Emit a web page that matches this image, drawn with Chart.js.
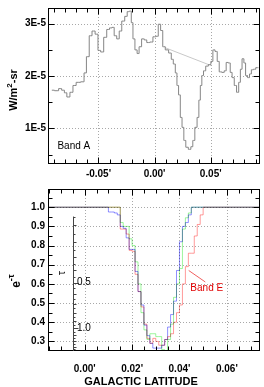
<!DOCTYPE html>
<html>
<head>
<meta charset="utf-8">
<script src="https://cdn.jsdelivr.net/npm/chart.js@4.4.0/dist/chart.umd.min.js"></script>
<style>
  html, body { margin: 0; padding: 0; background: #fff; }
  #wrap { position: relative; width: 264px; height: 387px; }
  canvas { position: absolute; left: 0; }
  #top { top: 0; }
  #bot { top: 180px; }
</style>
</head>
<body>
<div id="wrap">
  <canvas id="top" width="264" height="180"></canvas>
  <canvas id="bot" width="264" height="207"></canvas>
</div>
<script>
Chart.defaults.font.family = "'Liberation Sans', Arial, sans-serif";
Chart.defaults.color = '#000';
Chart.defaults.animation = false;

// ---- Band A brightness (units of 1E-5 W/m2-sr) ----
var bandALat = [-0.0916, -0.0869, -0.0842, -0.0815, -0.0793, -0.0771, -0.0738, -0.0717, -0.0681, -0.0637,
  -0.0620, -0.0595, -0.0570, -0.0545, -0.0515, -0.0494, -0.0467, -0.0440, -0.0413, -0.0390,
  -0.0369, -0.0351, -0.0324, -0.0306, -0.0279, -0.0253, -0.0235, -0.0215, -0.0200, -0.0185,
  -0.0165, -0.0146, -0.0130, -0.0101, -0.0083, -0.0056, -0.0029, 0.0000, 0.0024, 0.0042,
  0.0066, 0.0080, 0.0111, 0.0140, 0.0158, 0.0176, 0.0194, 0.0205, 0.0223, 0.0236,
  0.0254, 0.0268, 0.0289, 0.0313, 0.0334, 0.0348, 0.0370, 0.0388, 0.0402, 0.0414,
  0.0429, 0.0444, 0.0468, 0.0491, 0.0513, 0.0527, 0.0551, 0.0566, 0.0587, 0.0611,
  0.0631, 0.0646, 0.0667, 0.0682, 0.0700, 0.0721, 0.0741, 0.0759, 0.0771, 0.0789,
  0.0804, 0.0819, 0.0839, 0.0854, 0.0872, 0.0890, 0.0914, 0.0926];
var bandAFlux = [1.73, 1.72, 1.76, 1.73, 1.68, 1.60, 1.69, 1.82, 1.88, 1.89,
  2.06, 2.37, 2.77, 2.86, 2.80, 2.49, 2.46, 2.74, 2.89, 2.92,
  2.93, 2.77, 2.71, 2.86, 3.05, 3.14, 3.23, 3.24, 3.02, 2.71,
  2.50, 2.43, 2.56, 2.71, 2.69, 2.64, 2.65, 2.75, 2.76, 2.99,
  2.87, 2.56, 2.50, 2.44, 2.32, 2.23, 2.06, 1.82, 1.64, 1.21,
  1.02, 0.77, 0.64, 0.60, 0.65, 0.77, 1.02, 1.21, 1.54, 1.82,
  2.01, 2.10, 2.19, 2.22, 2.28, 2.50, 2.47, 2.28, 2.08, 2.07,
  2.10, 2.26, 2.25, 2.07, 1.97, 1.82, 1.69, 1.88, 2.13, 2.33,
  2.25, 2.01, 1.97, 2.04, 2.12, 2.13, 2.16, 2.16];
// interpolated background under the cloud
var baseLat = [0.0096, 0.0504];
var baseFlux = [2.54, 2.20];

var topXTicks = [-0.05, 0.00, 0.05];
var topYTicks = [1, 2, 3];

// ---- transmission e^-tau for three bands ----
var transLat = [-0.016, 0.00875, 0.01, 0.01125, 0.0125, 0.01375, 0.015, 0.01625, 0.0175, 0.01875,
  0.02, 0.02125, 0.0225, 0.02375, 0.025, 0.02625, 0.0275, 0.02875, 0.03, 0.03125,
  0.0325, 0.03375, 0.035, 0.03625, 0.0375, 0.03875, 0.04, 0.04125, 0.0425, 0.04375,
  0.045, 0.04625, 0.0475, 0.04875, 0.05, 0.075];
var transBlue = [1.0, 1.0, 0.975, 0.975, 0.97, 0.96, 0.90, 0.89, 0.84, 0.78,
  0.78, 0.665, 0.56, 0.49, 0.385, 0.33, 0.29, 0.265, 0.265, 0.265,
  0.28, 0.31, 0.375, 0.44, 0.51, 0.67, 0.82, 0.90, 0.92, 0.96,
  1.0, 1.0, 1.0, 1.0, 1.0, 1.0];
var transGreen = [1.0, 1.0, 1.0, 1.0, 1.0, 1.0, 0.92, 0.90, 0.90, 0.835,
  0.80, 0.715, 0.60, 0.45, 0.36, 0.31, 0.34, 0.34, 0.325, 0.325,
  0.257, 0.25, 0.31, 0.39, 0.53, 0.60, 0.68, 0.886, 0.945, 0.97,
  1.0, 1.0, 1.0, 1.0, 1.0, 1.0];
var transRed = [1.0, 1.0, 1.0, 1.0, 1.0, 1.0, 0.886, 0.886, 0.86, 0.775,
  0.77, 0.65, 0.56, 0.48, 0.39, 0.316, 0.29, 0.316, 0.30, 0.28,
  0.28, 0.31, 0.325, 0.34, 0.40, 0.45, 0.49, 0.60, 0.69, 0.76,
  0.76, 0.85, 0.91, 0.96, 1.0, 1.0];

var botXTicks = [0.00, 0.02, 0.04, 0.06];
var botYTicks = [0.3, 0.4, 0.5, 0.6, 0.7, 0.8, 0.9, 1.0];
var tauLabels = [0.5, 1.0];

function steps(a, b, s) {
  var out = [];
  for (var v = a; v <= b + s / 1000; v += s) out.push(+v.toFixed(5));
  return out;
}

function pts(xs, ys) {
  return xs.map(function (x, i) { return { x: x, y: ys[i] }; });
}

function drawRotated(ctx, x, y, parts) {
  ctx.save();
  ctx.translate(x, y);
  ctx.rotate(-Math.PI / 2);
  ctx.textBaseline = 'alphabetic';
  ctx.textAlign = 'left';
  var w = 0;
  parts.forEach(function (p) { ctx.font = p.font; w += ctx.measureText(p.t).width; });
  var cx = -w / 2;
  parts.forEach(function (p) {
    ctx.font = p.font;
    ctx.fillText(p.t, cx, p.dy || 0);
    cx += ctx.measureText(p.t).width;
  });
  ctx.restore();
}

// dotted grid, black box with inward ticks
function boxPlugin(o) {
  return {
    id: 'box',
    beforeDatasetsDraw: function (chart) {
      var ctx = chart.ctx, a = chart.chartArea, x = chart.scales.x, y = chart.scales.y;
      ctx.save();
      ctx.strokeStyle = '#a8a8a8';
      ctx.lineWidth = 1;
      ctx.setLineDash([1, 2]);
      ctx.beginPath();
      o.xMajor.forEach(function (v) {
        var p = Math.round(x.getPixelForValue(v)) + 0.5;
        ctx.moveTo(p, a.top); ctx.lineTo(p, a.bottom);
      });
      o.yMajor.forEach(function (v) {
        var p = Math.round(y.getPixelForValue(v)) + 0.5;
        ctx.moveTo(a.left, p); ctx.lineTo(a.right, p);
      });
      ctx.stroke();
      ctx.restore();
      if (o.blend) { ctx.save(); ctx.globalCompositeOperation = 'multiply'; }
    },
    afterDatasetsDraw: function (chart) {
      if (o.blend) chart.ctx.restore();
    },
    afterDraw: function (chart) {
      var ctx = chart.ctx, a = chart.chartArea, x = chart.scales.x, y = chart.scales.y;
      var L = Math.round(a.left) + 0.5, R = Math.round(a.right) - 0.5;
      var T = Math.round(a.top) + 0.5, B = Math.round(a.bottom) - 0.5;
      ctx.save();
      ctx.strokeStyle = '#000';
      ctx.lineWidth = 1;
      ctx.strokeRect(L, T, R - L, B - T);
      ctx.beginPath();
      function xt(v, len) {
        var p = Math.round(x.getPixelForValue(v)) + 0.5;
        if (p < L || p > R) return;
        ctx.moveTo(p, B); ctx.lineTo(p, B - len);
        ctx.moveTo(p, T); ctx.lineTo(p, T + len);
      }
      function yt(v, len) {
        var p = Math.round(y.getPixelForValue(v)) + 0.5;
        if (p < T || p > B) return;
        ctx.moveTo(L, p); ctx.lineTo(L + len, p);
        ctx.moveTo(R, p); ctx.lineTo(R - len, p);
      }
      o.xMinor.forEach(function (v) { xt(v, 4); });
      o.xMajor.forEach(function (v) { xt(v, 6); });
      o.yMinor.forEach(function (v) { yt(v, 4); });
      o.yMajor.forEach(function (v) { yt(v, 6); });
      ctx.stroke();
      ctx.restore();
      if (o.extra) o.extra(chart);
    }
  };
}

var tickFont = { size: 10, weight: 'bold' };
var noGrid = { display: false, drawTicks: false, tickLength: 0 };

// ---------------- top panel ----------------
new Chart(document.getElementById('top'), {
  type: 'line',
  data: {
    datasets: [{
      data: pts(bandALat, bandAFlux),
      borderColor: '#868686',
      borderWidth: 1,
      pointRadius: 0,
      stepped: 'middle'
    }, {
      data: pts(baseLat, baseFlux),
      borderColor: '#c8c8c8',
      borderWidth: 1,
      pointRadius: 0
    }]
  },
  options: {
    responsive: false,
    layout: { padding: { top: 3, right: 4, left: 0, bottom: 0 } },
    plugins: { legend: { display: false }, tooltip: { enabled: false } },
    scales: {
      x: {
        type: 'linear', min: -0.095, max: 0.094,
        grid: noGrid, border: { display: false },
        afterBuildTicks: function (s) { s.ticks = topXTicks.map(function (v) { return { value: v }; }); },
        afterFit: function (s) { s.height = 16; },
        ticks: { font: tickFont, padding: 4, maxRotation: 0,
          callback: function (v) { return v.toFixed(2) + "'"; } }
      },
      y: {
        type: 'linear', min: 0.32, max: 3.30,
        grid: noGrid, border: { display: false },
        afterBuildTicks: function (s) { s.ticks = topYTicks.map(function (v) { return { value: v }; }); },
        afterFit: function (s) { s.width = 48; },
        ticks: { font: tickFont, padding: 2,
          callback: function (v) { return v + 'E-5'; } }
      }
    }
  },
  plugins: [boxPlugin({
    xMajor: topXTicks, xMinor: steps(-0.09, 0.09, 0.01),
    yMajor: topYTicks, yMinor: steps(0.5, 3.0, 0.5),
    extra: function (chart) {
      var ctx = chart.ctx, x = chart.scales.x, y = chart.scales.y;
      ctx.save();
      ctx.fillStyle = '#000';
      drawRotated(ctx, 17, 90, [
        { t: 'W/m', font: "bold 11px 'Liberation Sans', Arial" },
        { t: '2', font: "bold 8px 'Liberation Sans', Arial", dy: -5 },
        { t: '-sr', font: "bold 11px 'Liberation Sans', Arial" }
      ]);
      ctx.font = "10px 'Liberation Sans', Arial";
      ctx.textBaseline = 'middle';
      ctx.fillText('Band A', x.getPixelForValue(-0.0866), y.getPixelForValue(0.654));
      ctx.restore();
    }
  })]
});

// ---------------- bottom panel ----------------
new Chart(document.getElementById('bot'), {
  type: 'line',
  data: {
    datasets: [{
      data: pts(transLat, transRed),
      borderColor: '#ff9a9a', borderWidth: 1, pointRadius: 0, stepped: 'before'
    }, {
      data: pts(transLat, transGreen),
      borderColor: '#9cf59c', borderWidth: 1, pointRadius: 0, stepped: 'before'
    }, {
      data: pts(transLat, transBlue),
      borderColor: '#9090ff', borderWidth: 1, pointRadius: 0, stepped: 'before'
    }]
  },
  options: {
    responsive: false,
    layout: { padding: { top: 6, right: 4, left: 0, bottom: 0 } },
    plugins: { legend: { display: false }, tooltip: { enabled: false } },
    scales: {
      x: {
        type: 'linear', min: -0.0155, max: 0.074,
        grid: noGrid, border: { display: false },
        afterBuildTicks: function (s) { s.ticks = botXTicks.map(function (v) { return { value: v }; }); },
        afterFit: function (s) { s.height = 36; },
        ticks: { font: tickFont, padding: 12, maxRotation: 0,
          callback: function (v) { return v.toFixed(2) + "'"; } }
      },
      y: {
        type: 'linear', min: 0.25, max: 1.095,
        grid: noGrid, border: { display: false },
        afterBuildTicks: function (s) { s.ticks = botYTicks.map(function (v) { return { value: v }; }); },
        afterFit: function (s) { s.width = 48; },
        ticks: { font: tickFont, padding: 3,
          callback: function (v) { return v.toFixed(1); } }
      }
    }
  },
  plugins: [boxPlugin({
    blend: true,
    xMajor: botXTicks, xMinor: steps(-0.015, 0.07, 0.005),
    yMajor: botYTicks, yMinor: steps(0.25, 1.05, 0.05),
    extra: function (chart) {
      var ctx = chart.ctx, a = chart.chartArea, x = chart.scales.x, y = chart.scales.y;
      ctx.save();
      ctx.fillStyle = '#000';
      drawRotated(ctx, 20, 101, [
        { t: 'e', font: "bold 12px 'Liberation Sans', Arial" },
        { t: '-\u03c4', font: "bold 9px 'Liberation Sans', Arial", dy: -6 }
      ]);
      // inner tau axis
      var ax = Math.round(x.getPixelForValue(-0.005)) + 0.5;
      ctx.strokeStyle = '#444';
      ctx.lineWidth = 1;
      ctx.beginPath();
      ctx.moveTo(ax, y.getPixelForValue(Math.exp(-0.05)));
      ctx.lineTo(ax, a.bottom);
      steps(0.05, 1.35, 0.05).forEach(function (t) {
        var p = Math.round(y.getPixelForValue(Math.exp(-t))) + 0.5;
        var len = (Math.abs(t - 0.5) < 1e-6 || Math.abs(t - 1) < 1e-6) ? 5 : (Math.round(t * 100) % 10 === 0 ? 3 : 2);
        ctx.moveTo(ax, p); ctx.lineTo(ax + len, p);
      });
      ctx.stroke();
      ctx.font = "10px 'Liberation Sans', Arial";
      ctx.textBaseline = 'middle';
      ctx.textAlign = 'left';
      tauLabels.forEach(function (t) {
        ctx.fillText(t.toFixed(1), ax + 3.5, y.getPixelForValue(Math.exp(-t)));
      });
      drawRotated(ctx, 65, 93, [{ t: '\u03c4', font: "11px 'Liberation Sans', Arial" }]);
      // Band E label with leader
      ctx.strokeStyle = '#f06060';
      ctx.beginPath();
      ctx.moveTo(x.getPixelForValue(0.0439), y.getPixelForValue(0.67));
      ctx.lineTo(x.getPixelForValue(0.0509), y.getPixelForValue(0.61));
      ctx.stroke();
      ctx.fillStyle = '#e00000';
      ctx.fillText('Band E', x.getPixelForValue(0.0446), y.getPixelForValue(0.578));
      // x title
      ctx.fillStyle = '#000';
      ctx.font = "bold 11px 'Liberation Sans', Arial";
      ctx.textAlign = 'center';
      ctx.textBaseline = 'alphabetic';
      ctx.fillText('GALACTIC LATITUDE', 141, 205);
      ctx.restore();
    }
  })]
});
</script>
</body>
</html>
